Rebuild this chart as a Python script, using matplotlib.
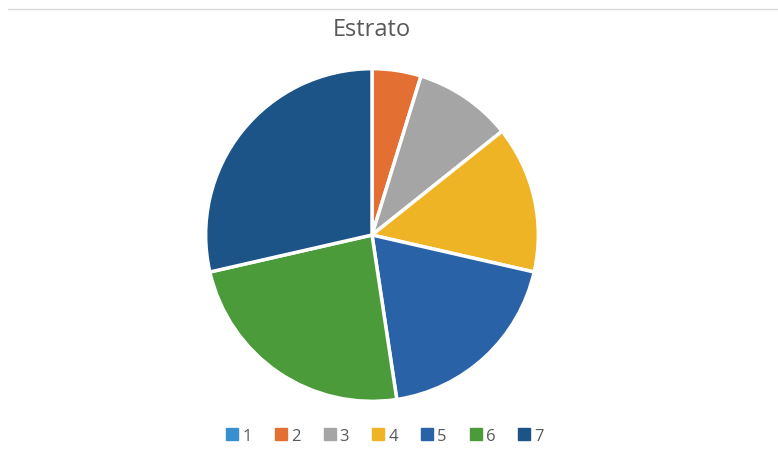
import matplotlib
matplotlib.use('Agg')
import matplotlib.pyplot as plt
from matplotlib.lines import Line2D

labels = ['1', '2', '3', '4', '5', '6', '7']
values = [0, 1, 2, 3, 4, 5, 6]
colors = ['#3A8FCF', '#E36F32', '#A5A5A5', '#EEB425', '#2A62A8', '#4C9B3A', '#1C5487']

fig = plt.figure(figsize=(7.78, 4.64), dpi=100)
fig.patch.set_facecolor('white')

# faint frame line at the top
fig.add_artist(Line2D([8 / 778, 1], [1 - 10 / 464, 1 - 10 / 464], color='#D9D9D9', lw=1))

ax = fig.add_axes([204 / 778, 60 / 464, 336 / 778, 336 / 464])
wedges, _ = ax.pie(values, colors=colors, startangle=90, counterclock=False,
                   wedgeprops=dict(edgecolor='white', linewidth=2.5))
ax.set_xlim(-1.01, 1.01)
ax.set_ylim(-1.01, 1.01)
ax.set_aspect('equal')

fig.text(372 / 778, 1 - 30 / 464, 'Estrato', ha='center', va='center',
         fontsize=17, color='#595959', family='Open Sans')

handles = [plt.Line2D([], [], marker='s', linestyle='', markersize=8,
                      markerfacecolor=c, markeredgecolor=c) for c in colors]
fig.legend(handles, labels, loc='center', bbox_to_anchor=(384 / 778, 1 - 437 / 464),
           ncol=7, frameon=False, labelcolor='#595959',
           handletextpad=0.1, columnspacing=1.25, handlelength=1.0,
           prop={'family': 'Open Sans', 'size': 12})

fig.savefig('out.png', dpi=100)
